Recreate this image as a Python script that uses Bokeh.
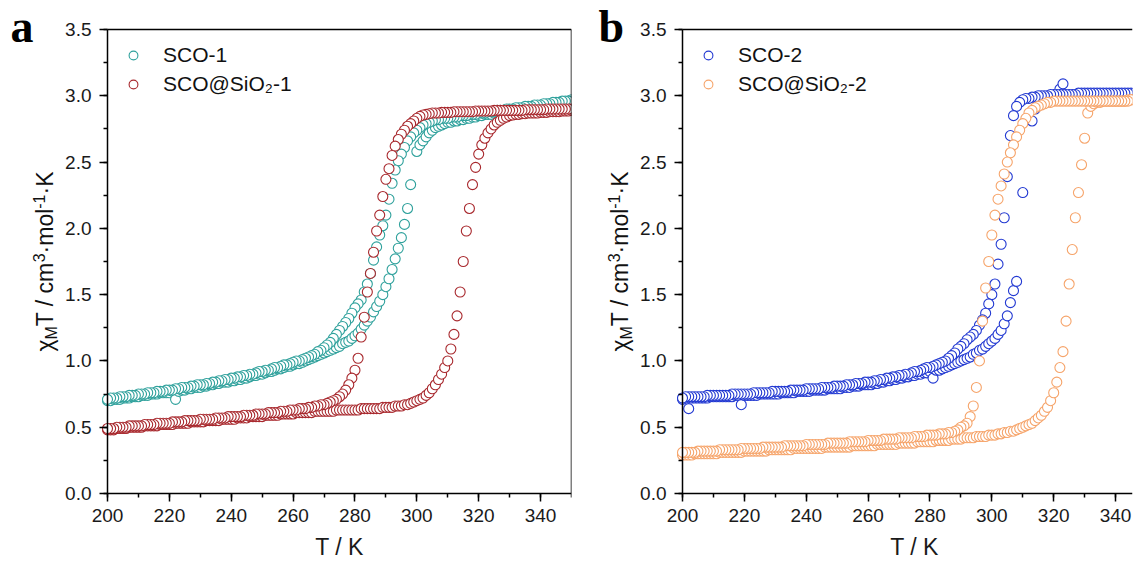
import math
from bokeh.plotting import figure
from bokeh.models import (ColumnDataSource, SingleIntervalTicker, NumeralTickFormatter,
                          Range1d, LinearAxis, FixedTicker)
from bokeh.core.properties import value
from bokeh.layouts import row
from bokeh.embed import file_html
from bokeh.resources import INLINE

nan = float("nan")

# measurement grid (K), one point per kelvin, heating and cooling branches
temps = list(range(200, 351))

# ---- panel a ----
sco1_heat = [
    0.70, 0.70, 0.71, 0.71, 0.71, 0.72, 0.72, 0.72, 0.73, 0.73,
    0.73, 0.74, 0.74, 0.74, 0.75, 0.75, 0.75, 0.76, 0.76, 0.76,
    0.76, 0.77, 0.71, 0.77, 0.78, 0.78, 0.79, 0.79, 0.80, 0.80,
    0.80, 0.81, 0.81, 0.82, 0.82, 0.83, 0.83, 0.84, 0.84, 0.84,
    0.85, 0.85, 0.86, 0.86, 0.87, 0.87, 0.88, 0.89, 0.89, 0.90,
    0.90, 0.91, 0.92, 0.92, 0.93, 0.94, 0.94, 0.95, 0.96, 0.96,
    0.97, 0.98, 0.98, 0.99, 1.00, 1.01, 1.02, 1.03, 1.04, 1.05,
    1.06, 1.07, 1.08, 1.09, 1.10, 1.11, 1.13, 1.14, 1.15, 1.17,
    1.19, 1.21, 1.24, 1.27, 1.30, 1.33, 1.37, 1.41, 1.45, 1.50,
    1.56, 1.62, 1.69, 1.77, 1.85, 1.93, 2.03, 2.15, 2.33, nan,
    2.58, 2.63, 2.66, 2.69, 2.72, 2.74, 2.76, 2.77, 2.78, 2.79,
    2.80, 2.80, 2.81, 2.81, 2.82, 2.82, 2.83, 2.83, 2.84, 2.84,
    2.85, 2.85, 2.86, 2.86, 2.86, 2.87, 2.87, 2.87, 2.88, 2.88,
    2.88, 2.89, 2.89, 2.90, 2.90, 2.91, 2.91, 2.91, 2.92, 2.92,
    2.92, 2.93, 2.93, 2.94, 2.94, 2.94, 2.95, 2.95, 2.95, 2.96, 2.96,
]
sco1_cool = [
    0.71, 0.72, 0.72, 0.72, 0.73, 0.73, 0.73, 0.74, 0.74, 0.74,
    0.75, 0.75, 0.75, 0.76, 0.76, 0.76, 0.77, 0.77, 0.77, 0.78,
    0.78, 0.78, 0.79, 0.79, 0.80, 0.80, 0.80, 0.81, 0.81, 0.82,
    0.82, 0.82, 0.83, 0.83, 0.84, 0.84, 0.85, 0.85, 0.86, 0.86,
    0.87, 0.87, 0.88, 0.88, 0.89, 0.89, 0.90, 0.90, 0.91, 0.92,
    0.92, 0.93, 0.93, 0.94, 0.95, 0.95, 0.96, 0.97, 0.97, 0.98,
    0.99, 1.00, 1.00, 1.01, 1.02, 1.03, 1.04, 1.05, 1.07, 1.08,
    1.10, 1.12, 1.14, 1.17, 1.20, 1.23, 1.26, 1.29, 1.32, 1.36,
    1.40, 1.43, 1.46, 1.52, 1.58, 1.66, 1.76, 1.86, 1.95, 2.02,
    2.10, 2.22, 2.34, 2.44, 2.51, 2.56, 2.61, 2.66, 2.69, 2.72,
    2.74, 2.76, 2.78, 2.79, 2.80, 2.81, 2.82, 2.82, 2.83, 2.83,
    2.83, 2.84, 2.84, 2.84, 2.85, 2.85, 2.85, 2.86, 2.86, 2.86,
    2.87, 2.87, 2.87, 2.88, 2.88, 2.88, 2.89, 2.89, 2.89, 2.90,
    2.90, 2.90, 2.91, 2.91, 2.91, 2.92, 2.92, 2.92, 2.93, 2.93,
    2.93, 2.94, 2.94, 2.94, 2.95, 2.95, 2.95, 2.96, 2.96, 2.96, 2.97,
]
sio1_heat = [
    0.48, 0.48, 0.48, 0.49, 0.49, 0.49, 0.49, 0.50, 0.50, 0.50,
    0.50, 0.50, 0.51, 0.51, 0.51, 0.51, 0.51, 0.52, 0.52, 0.52,
    0.52, 0.52, 0.53, 0.53, 0.53, 0.53, 0.53, 0.54, 0.54, 0.54,
    0.54, 0.54, 0.55, 0.55, 0.55, 0.55, 0.55, 0.56, 0.56, 0.56,
    0.56, 0.56, 0.57, 0.57, 0.57, 0.57, 0.58, 0.58, 0.58, 0.58,
    0.58, 0.59, 0.59, 0.59, 0.59, 0.59, 0.60, 0.60, 0.60, 0.60,
    0.60, 0.61, 0.61, 0.61, 0.61, 0.61, 0.61, 0.62, 0.62, 0.62,
    0.62, 0.62, 0.62, 0.62, 0.63, 0.63, 0.63, 0.63, 0.63, 0.63,
    0.63, 0.63, 0.64, 0.64, 0.64, 0.64, 0.64, 0.64, 0.64, 0.65,
    0.65, 0.65, 0.65, 0.66, 0.66, 0.66, 0.67, 0.67, 0.68, 0.69,
    0.70, 0.71, 0.72, 0.74, 0.76, 0.79, 0.82, 0.86, 0.90, 0.95,
    1.00, 1.09, 1.20, 1.34, 1.52, 1.75, 1.98, 2.15, 2.33, 2.46,
    2.56, 2.63, 2.68, 2.72, 2.75, 2.78, 2.80, 2.815, 2.83, 2.84,
    2.85, 2.855, 2.86, 2.86, 2.865, 2.865, 2.87, 2.87, 2.87, 2.87,
    2.875, 2.875, 2.875, 2.88, 2.88, 2.88, 2.88, 2.885, 2.885, 2.885, 2.89,
]
sio1_cool = [
    0.49, 0.49, 0.49, 0.50, 0.50, 0.50, 0.50, 0.51, 0.51, 0.51,
    0.51, 0.51, 0.52, 0.52, 0.52, 0.52, 0.53, 0.53, 0.53, 0.53,
    0.53, 0.54, 0.54, 0.54, 0.54, 0.55, 0.55, 0.55, 0.55, 0.55,
    0.56, 0.56, 0.56, 0.56, 0.56, 0.57, 0.57, 0.57, 0.57, 0.58,
    0.58, 0.58, 0.58, 0.58, 0.59, 0.59, 0.59, 0.59, 0.60, 0.60,
    0.60, 0.60, 0.61, 0.61, 0.61, 0.61, 0.62, 0.62, 0.62, 0.63,
    0.63, 0.63, 0.64, 0.64, 0.64, 0.65, 0.65, 0.66, 0.66, 0.67,
    0.67, 0.68, 0.69, 0.70, 0.71, 0.73, 0.75, 0.78, 0.82, 0.87,
    0.93, 1.02, 1.18, 1.33, 1.52, 1.66, 1.82, 1.98, 2.10, 2.24,
    2.37, 2.45, 2.55, 2.62, 2.67, 2.71, 2.74, 2.77, 2.79, 2.81,
    2.83, 2.845, 2.855, 2.86, 2.865, 2.87, 2.87, 2.87, 2.875, 2.875,
    2.875, 2.875, 2.88, 2.88, 2.88, 2.88, 2.88, 2.88, 2.88, 2.885,
    2.885, 2.885, 2.885, 2.885, 2.885, 2.89, 2.89, 2.89, 2.89, 2.89,
    2.89, 2.89, 2.89, 2.89, 2.89, 2.895, 2.895, 2.895, 2.895, 2.895,
    2.895, 2.895, 2.90, 2.90, 2.90, 2.90, 2.90, 2.90, 2.90, 2.90, 2.90,
]

# ---- panel b ----
sco2_heat = [
    0.71, 0.72, 0.64, 0.72, 0.72, 0.72, 0.72, 0.72, 0.72, 0.73,
    0.73, 0.73, 0.73, 0.73, 0.73, 0.73, 0.73, 0.74, 0.74, 0.67,
    0.74, 0.74, 0.74, 0.74, 0.74, 0.75, 0.75, 0.75, 0.75, 0.75,
    0.75, 0.75, 0.76, 0.76, 0.76, 0.76, 0.76, 0.77, 0.77, 0.77,
    0.77, 0.77, 0.78, 0.78, 0.78, 0.78, 0.78, 0.79, 0.79, 0.79,
    0.79, 0.79, 0.80, 0.80, 0.80, 0.81, 0.81, 0.81, 0.82, 0.82,
    0.82, 0.82, 0.83, 0.83, 0.84, 0.84, 0.85, 0.85, 0.86, 0.86,
    0.87, 0.87, 0.88, 0.88, 0.89, 0.89, 0.90, 0.90, 0.91, 0.91,
    0.92, 0.87, 0.93, 0.93, 0.94, 0.95, 0.96, 0.97, 0.98, 0.99,
    1.00, 1.01, 1.02, 1.03, 1.05, 1.06, 1.08, 1.09, 1.11, 1.13,
    1.15, 1.17, 1.20, 1.23, 1.28, 1.34, 1.44, 1.53, 1.60, nan,
    2.27, nan, nan, 2.81, 2.90, 2.95, 2.97, 2.98, 2.99, 3.00,
    3.00, 3.00, 3.05, 3.09, 3.00, 3.00, 3.00, 3.01, 3.01, 3.01,
    3.01, 3.01, 3.01, 3.01, 3.01, 3.01, 3.01, 3.01, 3.01, 3.01,
    3.01, 3.01, 3.01, 3.01, 3.01, 3.01, 3.01, 3.01, 3.01, 3.01, 3.01,
]
sco2_cool = [
    0.72, 0.73, 0.73, 0.73, 0.73, 0.73, 0.73, 0.73, 0.74, 0.74,
    0.74, 0.74, 0.74, 0.74, 0.74, 0.74, 0.75, 0.75, 0.75, 0.75,
    0.75, 0.75, 0.75, 0.76, 0.76, 0.76, 0.76, 0.76, 0.76, 0.77,
    0.77, 0.77, 0.77, 0.77, 0.77, 0.78, 0.78, 0.78, 0.78, 0.78,
    0.79, 0.79, 0.79, 0.79, 0.79, 0.80, 0.80, 0.80, 0.80, 0.81,
    0.81, 0.81, 0.81, 0.82, 0.82, 0.82, 0.83, 0.83, 0.83, 0.84,
    0.84, 0.84, 0.85, 0.85, 0.86, 0.86, 0.87, 0.87, 0.88, 0.88,
    0.89, 0.89, 0.90, 0.90, 0.91, 0.92, 0.92, 0.93, 0.94, 0.95,
    0.95, 0.96, 0.97, 0.98, 0.99, 1.00, 1.02, 1.04, 1.06, 1.09,
    1.11, 1.13, 1.16, 1.18, 1.20, 1.23, 1.27, 1.31, 1.36, 1.43,
    1.50, 1.58, 1.73, 1.88, 2.08, 2.39, 2.70, 2.85, 2.92, 2.95,
    2.97, 2.98, 2.98, 2.99, 2.99, 3.00, 3.00, 3.00, 3.00, 3.01,
    3.01, 3.01, 3.01, 3.01, 3.01, 3.01, 3.01, 3.01, 3.02, 3.02,
    3.02, 3.02, 3.02, 3.02, 3.02, 3.02, 3.02, 3.02, 3.02, 3.02,
    3.02, 3.02, 3.02, 3.02, 3.02, 3.02, 3.02, 3.02, 3.02, 3.02, 3.02,
]
sio2_heat = [
    0.29, 0.29, 0.29, 0.29, 0.30, 0.30, 0.30, 0.30, 0.30, 0.30,
    0.30, 0.30, 0.31, 0.31, 0.31, 0.31, 0.31, 0.31, 0.31, 0.31,
    0.32, 0.32, 0.32, 0.32, 0.32, 0.32, 0.32, 0.32, 0.33, 0.33,
    0.33, 0.33, 0.33, 0.33, 0.33, 0.33, 0.34, 0.34, 0.34, 0.34,
    0.34, 0.34, 0.34, 0.34, 0.34, 0.34, 0.35, 0.35, 0.35, 0.35,
    0.35, 0.35, 0.35, 0.35, 0.35, 0.36, 0.36, 0.36, 0.36, 0.36,
    0.36, 0.36, 0.36, 0.37, 0.37, 0.37, 0.37, 0.37, 0.37, 0.37,
    0.38, 0.38, 0.38, 0.38, 0.38, 0.38, 0.39, 0.39, 0.39, 0.39,
    0.39, 0.39, 0.40, 0.40, 0.40, 0.40, 0.40, 0.41, 0.41, 0.41,
    0.41, 0.42, 0.42, 0.42, 0.42, 0.43, 0.43, 0.43, 0.43, 0.44,
    0.44, 0.44, 0.45, 0.45, 0.46, 0.46, 0.47, 0.47, 0.48, 0.49,
    0.50, 0.51, 0.52, 0.53, 0.55, 0.57, 0.59, 0.62, 0.65, 0.70,
    0.76, 0.84, 0.95, 1.07, 1.30, 1.58, 1.84, 2.08, 2.27, 2.48,
    2.68, 2.87, 2.92, 2.94, 2.95, 2.95, 2.96, 2.96, 2.96, 2.96,
    2.96, 2.96, 2.96, 2.96, 2.97, 2.97, 2.97, 2.97, 2.97, 2.97, 2.97,
]
sio2_cool = [
    0.31, 0.31, 0.31, 0.31, 0.31, 0.32, 0.32, 0.32, 0.32, 0.32,
    0.32, 0.32, 0.33, 0.33, 0.33, 0.33, 0.33, 0.33, 0.33, 0.34,
    0.34, 0.34, 0.34, 0.34, 0.34, 0.34, 0.35, 0.35, 0.35, 0.35,
    0.35, 0.35, 0.35, 0.36, 0.36, 0.36, 0.36, 0.36, 0.36, 0.36,
    0.37, 0.37, 0.37, 0.37, 0.37, 0.37, 0.37, 0.38, 0.38, 0.38,
    0.38, 0.38, 0.38, 0.38, 0.39, 0.39, 0.39, 0.39, 0.39, 0.39,
    0.40, 0.40, 0.40, 0.40, 0.40, 0.41, 0.41, 0.41, 0.41, 0.41,
    0.42, 0.42, 0.42, 0.42, 0.42, 0.43, 0.43, 0.43, 0.43, 0.44,
    0.44, 0.44, 0.44, 0.45, 0.45, 0.45, 0.46, 0.46, 0.47, 0.48,
    0.50, 0.51, 0.53, 0.58, 0.66, 0.80, 1.00, 1.30, 1.55, 1.75,
    1.95, 2.10, 2.22, 2.32, 2.41, 2.50, 2.57, 2.63, 2.69, 2.74,
    2.79, 2.83, 2.87, 2.89, 2.91, 2.92, 2.93, 2.94, 2.95, 2.95,
    2.96, 2.96, 2.96, 2.96, 2.96, 2.96, 2.96, 2.96, 2.96, 2.96,
    2.96, 2.96, 2.96, 2.96, 2.96, 2.96, 2.96, 2.96, 2.96, 2.96,
    2.96, 2.96, 2.96, 2.96, 2.96, 2.97, 2.97, 2.97, 2.97, 2.97, 2.97,
]

labels_a = ["SCO-1", "SCO@SiO\u2082-1"]
labels_b = ["SCO-2", "SCO@SiO\u2082-2"]
colors_a = ["#2FA19C", "#A8282D"]
colors_b = ["#2239D2", "#F6A46A"]
x_title = "T / K"
# y-axis title "χ_M T / cm^3·mol^-1·K", written piece by piece
ylabel_pieces = ["χ", "M", "T / cm", "3", "·mol", "-1", "·K"]

for arr in (sco1_heat, sco1_cool, sio1_heat, sio1_cool, sco2_heat, sco2_cool, sio2_heat, sio2_cool):
    assert len(arr) == len(temps), len(arr)

FONT = "Liberation Sans"
SERIF = "Liberation Serif"
W = {"χ": 0.52, "M": 0.833, "T": 0.611, " ": 0.278, "/": 0.278, "c": 0.5, "m": 0.833,
     "3": 0.556, "·": 0.333, "o": 0.556, "l": 0.222, "-": 0.333, "1": 0.556, "K": 0.667}
BASE_FIX = 0.35        # text glyphs sit this many em below the requested baseline

HEIGHT = 562
AXIS_TOP = 29          # page y of the 3.5 line
AXIS_BOTTOM = 493      # page y of the 0.0 line
SY = (AXIS_BOTTOM - AXIS_TOP) / 3.5     # px per unit
SX = (AXIS_BOTTOM - AXIS_TOP) / 150     # px per K


def border_axis(**kw):
    """Plain frame edge: an axis line with no ticks and no labels."""
    return LinearAxis(axis_line_width=1.5, axis_line_color="black",
                      ticker=FixedTicker(ticks=[], minor_ticks=[]),
                      major_tick_out=0, major_tick_in=0, minor_tick_out=0, minor_tick_in=0,
                      **kw)


def make_panel(page_left, axis_page_x, frame_right_page, width, series, labels, colors,
               letter, letter_page_x, ylabel_page_x):
    x_start = 200 - (axis_page_x - page_left) / SX
    x_end = 200 + (frame_right_page - axis_page_x) / SX
    x_vis_end = min(350, x_end)
    y_start = -(HEIGHT - AXIS_BOTTOM) / SY
    y_end = 3.5 + AXIS_TOP / SY

    def X(px):
        return x_start + (px - page_left) / SX

    def Y(py):
        return (AXIS_BOTTOM - py) / SY

    p = figure(width=width, height=HEIGHT, output_backend="svg", toolbar_location=None,
               x_range=Range1d(x_start, x_end), y_range=Range1d(y_start, y_end),
               min_border_left=0, min_border_right=width - (frame_right_page - page_left),
               min_border_top=0, min_border_bottom=0)
    p.grid.visible = False
    p.outline_line_color = None
    p.border_fill_color = "white"

    for (heat, cool), lab, col in zip(series, labels, colors):
        src = ColumnDataSource(dict(T=temps + temps[::-1], v=heat + cool[::-1]))
        p.scatter("T", "v", source=src, marker="circle", size=10, fill_color="white",
                  line_color=col, line_width=1.1, legend_label=lab)

    # axes sit inside the frame at T = 200 and at 0.0, bounded to the data window
    xa = p.xaxis[0]
    ya = p.yaxis[0]
    ya.fixed_location = 200
    ya.bounds = (0, 3.5)
    xa.fixed_location = 0
    xa.bounds = (200, x_vis_end)
    xa.ticker = SingleIntervalTicker(interval=20, num_minor_ticks=2)
    ya.ticker = SingleIntervalTicker(interval=0.5, num_minor_ticks=2)
    ya.formatter = NumeralTickFormatter(format="0.0")
    for ax in (xa, ya):
        ax.axis_line_width = 1.5
        ax.axis_line_color = "black"
        ax.major_tick_line_width = 1.5
        ax.minor_tick_line_width = 1.5
        ax.major_tick_out = 8
        ax.major_tick_in = 0
        ax.minor_tick_out = 4
        ax.minor_tick_in = 0
        ax.major_label_text_font = FONT
        ax.major_label_text_font_size = "19px"
        ax.major_label_text_color = "#1a1a1a"
    ya.major_label_standoff = 8
    xa.major_label_standoff = 7

    # frame edges: top always, right only when the window reaches 350 K
    p.add_layout(border_axis(fixed_location=3.5, bounds=(200, x_vis_end)), "above")
    if x_end >= 350:
        p.add_layout(border_axis(fixed_location=350, bounds=(0, 3.5)), "right")

    lg = p.legend[0]
    lg.location = (axis_page_x - page_left + 14, HEIGHT - 38 - 58)
    lg.border_line_color = None
    lg.background_fill_alpha = 0
    lg.margin = 0
    lg.padding = 5
    lg.spacing = 5
    lg.glyph_width = 24
    lg.glyph_height = 22
    lg.label_standoff = 18
    lg.label_text_font = FONT
    lg.label_text_font_size = "21px"
    lg.label_text_color = "#111111"

    # x-axis title centred under the 200-350 K axis
    xs = 23
    p.text(x=[275], y=[Y(555 - BASE_FIX * xs)], text=[x_title], text_font=value(FONT),
           text_font_size=f"{xs}px", text_align="center", text_baseline="alphabetic",
           text_color="#1a1a1a")

    # panel letter
    ls = 46
    p.text(x=[X(letter_page_x)], y=[Y(42 - BASE_FIX * ls)], text=[letter],
           text_font=value(SERIF), text_font_size=f"{ls}px", text_font_style="bold",
           text_align="left", text_baseline="alphabetic", text_color="black")

    # y-axis title, pieces reading upwards along a common baseline
    fs, ss = 23, 16
    sizes = [fs, ss, fs, ss, fs, ss, fs]
    shifts = [0, 4, 0, -9, 0, -9, 0]
    widths = [sum(W[c] for c in t) * s for t, s in zip(ylabel_pieces, sizes)]
    py = 261 + sum(widths) / 2
    for t, s, dx, w in zip(ylabel_pieces, sizes, shifts, widths):
        p.text(x=[X(ylabel_page_x + dx - BASE_FIX * s)], y=[Y(py)], text=[t],
               angle=math.pi / 2, text_font=value(FONT), text_font_size=f"{s}px",
               text_align="left", text_baseline="alphabetic", text_color="#111111")
        py -= w
    return p


p1 = make_panel(0, 107, 571, 581, [(sco1_heat, sco1_cool), (sio1_heat, sio1_cool)],
                labels_a, colors_a, "a", 10, 53)
p2 = make_panel(581, 682, 1132, 1136 - 581, [(sco2_heat, sco2_cool), (sio2_heat, sio2_cool)],
                labels_b, colors_b, "b", 598, 628)

layout = row(p1, p2, spacing=0)
open("out.html", "w").write(file_html(layout, INLINE))
